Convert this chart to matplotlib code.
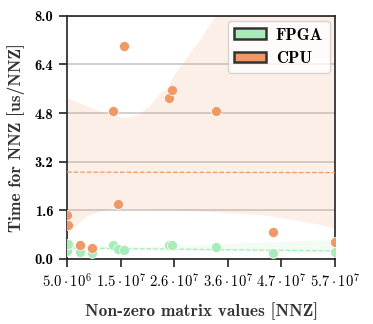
import numpy as np
import matplotlib; matplotlib.use("Agg")
import matplotlib.pyplot as plt
import seaborn as sns
from matplotlib.patches import Patch

plt.rcParams["font.family"] = "cmb10"
plt.rcParams["mathtext.fontset"] = "cm"
plt.rcParams["axes.unicode_minus"] = False

# NNZ per matrix and time per NNZ [us/NNZ]
nnz = np.array([5.0e6, 5.1e6, 7.5e6, 9.85e6, 1.40e7, 1.49e7, 1.61e7, 2.47e7, 2.537e7, 3.385e7, 4.50e7, 5.7e7])
cpu = np.array([1.44, 1.12, 0.45, 0.37, 4.87, 1.80, 7.01, 5.28, 5.55, 4.87, 0.87, 0.57])
fpga = np.array([0.27, 0.49, 0.23, 0.20, 0.47, 0.31, 0.30, 0.45, 0.45, 0.38, 0.18, 0.22])

xticks = np.linspace(5.0e6, 5.7e7, 6)
xlabels = [r"$\mathbf{5.0\cdot10^{6}}$", r"$\mathbf{1.5\cdot10^{7}}$", r"$\mathbf{2.6\cdot10^{7}}$",
           r"$\mathbf{3.6\cdot10^{7}}$", r"$\mathbf{4.7\cdot10^{7}}$", r"$\mathbf{5.7\cdot10^{7}}$"]
yticks = np.linspace(0, 8, 6)

C_FPGA = "#a9ebb9"
C_CPU = "#ee9966"

fig = plt.figure(figsize=(3.73, 3.24), dpi=100)
ax = fig.add_axes([0.180, 0.201, 0.718, 0.750])

# linear fit + bootstrap CI band, dashed fit line
for y, c in [(fpga, C_FPGA), (cpu, C_CPU)]:
    sns.regplot(x=nnz, y=y, ax=ax, color=c, seed=0, truncate=False,
                scatter_kws=dict(s=52, alpha=1, edgecolor="white", linewidths=0.5, zorder=4),
                line_kws=dict(ls="--", lw=0.9, zorder=3))
for coll in ax.collections:
    if coll.__class__.__name__ in ("FillBetweenPolyCollection", "PolyCollection"):
        coll.set_alpha(0.15)

ax.set_xlim(5.0e6, 5.7e7)
ax.set_ylim(0, 8)
ax.set_xticks(xticks)
ax.set_xticklabels(xlabels, fontsize=10.5)
ax.set_yticks(yticks)
ax.set_yticklabels([f"{v:.1f}" for v in yticks], fontsize=10.5)
ax.yaxis.grid(True, color="#c8c8c8", lw=1.2, zorder=0)
ax.set_axisbelow(True)
for s in ax.spines.values():
    s.set_linewidth(1.2); s.set_color("#222222")
ax.tick_params(length=6, width=1.2, color="#222222", pad=4)
ax.set_xlabel("Non-zero matrix values [NNZ]", fontsize=12.5, color="#333333", labelpad=8)
ax.set_ylabel("Time for NNZ [us/NNZ]", fontsize=12.5, color="#333333", labelpad=7)

handles = [Patch(facecolor=C_FPGA, edgecolor="#333333", lw=1.8, label="FPGA"),
           Patch(facecolor=C_CPU, edgecolor="#333333", lw=1.8, label="CPU")]
ax.legend(handles=handles, loc="upper right", fontsize=12, frameon=True, fancybox=True,
          edgecolor="#cccccc", handlelength=1.9, handleheight=0.6, borderaxespad=0.3,
          handletextpad=0.6)

fig.savefig("out.png", dpi=100)
